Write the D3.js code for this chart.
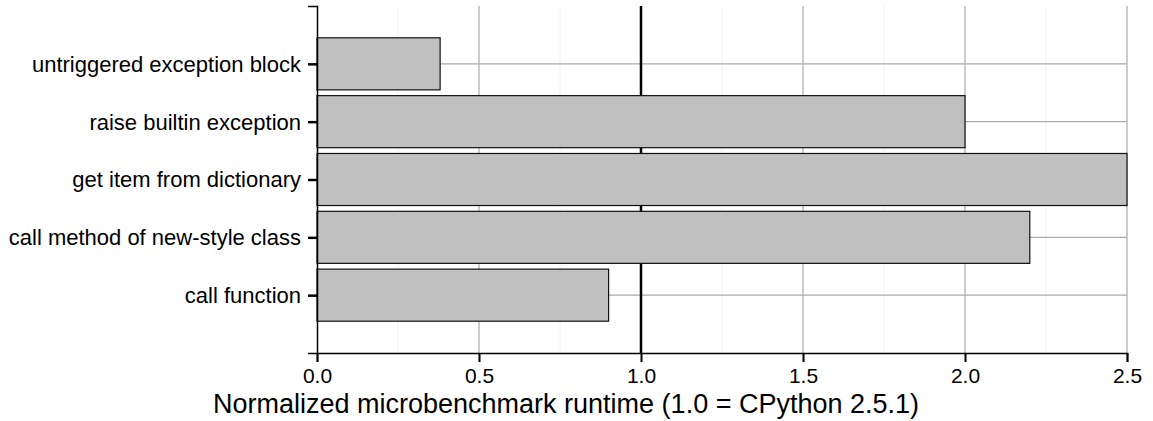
<!DOCTYPE html>
<html>
<head>
<meta charset="utf-8">
<script src="https://cdn.jsdelivr.net/npm/d3@7"></script>
<style>
    body { margin: 0; background: #fff; }
    text { font-family: "Liberation Sans", Arial, sans-serif; fill: #000; }
</style>
</head>
<body>
<script>
    // benchmarks, bottom to top as in the picture
    let benchmarks = ["call function", "call method of new-style class", "get item from dictionary",
        "raise builtin exception", "untriggered exception block"];
    let runtimes = [0.90, 2.20, 2.50, 2.00, 0.38];
    let xTicks = [0.0, 0.5, 1.0, 1.5, 2.0, 2.5];
    let minorTicks = [0.25, 0.75, 1.25, 1.75, 2.25];
    let baseline = 1.0;
    let axisTitle = "Normalized microbenchmark runtime (1.0 = CPython 2.5.1)";

    let margin = {top: 6, right: 26, bottom: 68, left: 317},
        width = 1153 - margin.left - margin.right,
        height = 421 - margin.top - margin.bottom;

    let data = benchmarks.map(function (d, i) {
        return {name: d, value: runtimes[i]};
    });

    let x = d3.scaleLinear()
        .domain([0, 2.5])
        .range([0, width]);

    let y = d3.scalePoint()
        .domain(benchmarks.slice().reverse())
        .range([0, height])
        .padding(1);

    let barH = y.step() * 0.9;

    let svg = d3.select("body").append("svg")
        .attr("width", 1153)
        .attr("height", 421)
        .append("g")
        .attr("transform", "translate(" + margin.left + "," + margin.top + ")");

    // minor grid
    svg.selectAll(".minor")
        .data(minorTicks)
        .enter().append("line")
        .attr("x1", function (d) { return x(d); })
        .attr("x2", function (d) { return x(d); })
        .attr("y1", 0)
        .attr("y2", height)
        .style("stroke", "#f2f2f2")
        .style("stroke-width", 1);

    // major grid
    svg.selectAll(".major")
        .data(xTicks.filter(function (d) { return d > 0; }))
        .enter().append("line")
        .attr("x1", function (d) { return x(d); })
        .attr("x2", function (d) { return x(d); })
        .attr("y1", 0)
        .attr("y2", height)
        .style("stroke", "#aaaaaa")
        .style("stroke-width", 1.2);

    svg.selectAll(".hgrid")
        .data(benchmarks)
        .enter().append("line")
        .attr("x1", 0)
        .attr("x2", width)
        .attr("y1", function (d) { return y(d); })
        .attr("y2", function (d) { return y(d); })
        .style("stroke", "#aaaaaa")
        .style("stroke-width", 1.2);

    // reference line at 1.0 (sits behind the bars)
    svg.append("line")
        .attr("x1", x(baseline))
        .attr("x2", x(baseline))
        .attr("y1", 0)
        .attr("y2", height)
        .style("stroke", "#000")
        .style("stroke-width", 2.5);

    svg.selectAll(".bar")
        .data(data)
        .enter().append("rect")
        .attr("x", x(0))
        .attr("y", function (d) { return y(d.name) - barH / 2; })
        .attr("width", function (d) { return x(d.value) - x(0); })
        .attr("height", barH)
        .style("fill", "#c0c0c0")
        .style("stroke", "#111")
        .style("stroke-width", 1.2);

    let xAxis = d3.axisBottom(x)
        .tickValues(xTicks)
        .tickFormat(d3.format(".1f"))
        .tickSizeOuter(0)
        .tickSize(9)
        .tickPadding(6);

    let gx = svg.append("g")
        .attr("transform", "translate(0," + height + ")")
        .call(xAxis);
    gx.select(".domain").style("stroke", "#000").style("stroke-width", 1.5);
    gx.selectAll(".tick line").style("stroke", "#000").style("stroke-width", 2);
    gx.selectAll("text").style("font-size", "21px");

    let yAxis = d3.axisLeft(y)
        .tickSizeOuter(0)
        .tickSize(9)
        .tickPadding(7);

    let gy = svg.append("g").call(yAxis);
    gy.select(".domain").style("stroke", "#000").style("stroke-width", 1.5);
    gy.selectAll(".tick line").style("stroke", "#000").style("stroke-width", 2.5);
    gy.selectAll("text").style("font-size", "22px").attr("dy", "0.34em");

    svg.append("text")
        .attr("x", 566 - margin.left)
        .attr("y", height + 60)
        .style("text-anchor", "middle")
        .style("font-size", "27px")
        .text(axisTitle);
</script>
</body>
</html>
